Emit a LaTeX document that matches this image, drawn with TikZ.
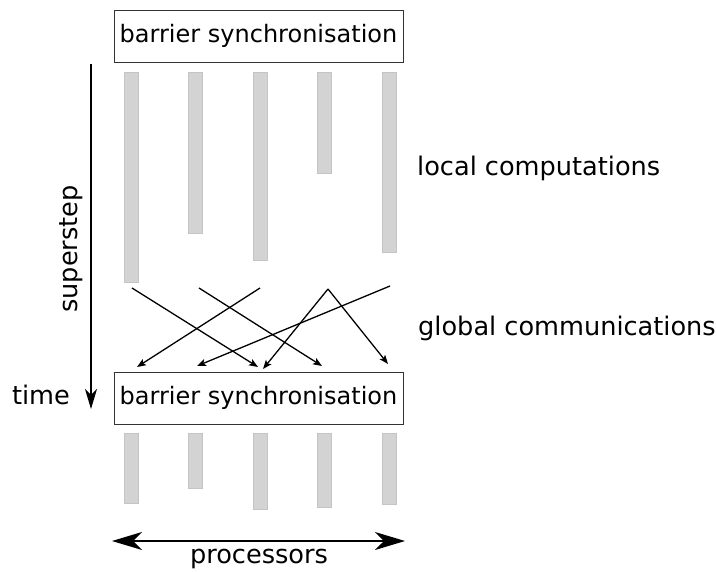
\documentclass[tikz,border=0pt]{standalone}
\usepackage{fontspec}
\setmainfont{DejaVu Sans}
\usepackage{xcolor}
\usepackage{tikz}
\usetikzlibrary{positioning, arrows.meta, calc}
\definecolor{barfill}{RGB}{211,211,211}
\definecolor{barline}{RGB}{196,196,196}

\begin{document}
\begin{tikzpicture}[
  x=1pt, y=-1pt,
  font=\fontsize{25.6}{30}\selectfont,
  sync/.style={draw=black!80, line width=0.9pt, minimum width=289pt, minimum height=52pt, inner sep=0pt, font=\fontsize{24}{29}\selectfont},
  bar/.style={draw=barline, fill=barfill, line width=0.6pt, minimum width=14pt, inner sep=0pt, anchor=north},
  msg/.style={-{Stealth[length=9pt, width=7pt, inset=2pt]}, line width=1.3pt},
  axis/.style={line width=1.3pt}
]
\useasboundingbox (0,0) rectangle (717,572);
\node[sync] (top) at (258.5,36) {barrier synchronisation};
\node[sync] (bot) at (258.5,398) {barrier synchronisation};
% superstep bars
\node[bar, minimum height=210pt] (p1) at (131,72) {};
\node[bar, minimum height=161pt] (p2) at (195,72) {};
\node[bar, minimum height=188pt] (p3) at (260,72) {};
\node[bar, minimum height=101pt] (p4) at (324,72) {};
\node[bar, minimum height=180pt] (p5) at (389,72) {};
% next superstep
\node[bar, minimum height=70pt] (q1) at (131,433) {};
\node[bar, minimum height=55pt] (q2) at (195,433) {};
\node[bar, minimum height=76pt] (q3) at (260,433) {};
\node[bar, minimum height=74pt] (q4) at (324,433) {};
\node[bar, minimum height=71pt] (q5) at (389,433) {};
% message ends
\coordinate (s1) at (132,288);
\coordinate (s2) at (199,288);
\coordinate (s3) at (260,288);
\coordinate (s4) at (328,289);
\coordinate (s5) at (390,286);
\coordinate (t1) at (137,367);
\coordinate (t2) at (197,366);
\coordinate (t3) at (258,367);
\coordinate (t4) at (263,369);
\coordinate (t5) at (322,366);
\coordinate (t6) at (388,364);
\draw[msg] (s1)--(t3);
\draw[msg] (s2)--(t5);
\draw[msg] (s3)--(t1);
\draw[msg] (s4)--(t4);
\draw[msg] (s4)--(t6);
\draw[msg] (s5)--(t2);
% axes
\coordinate (tstart) at (91,64);
\coordinate (tend) at (91,409);
\draw[axis, -{Stealth[length=20pt, width=12pt, inset=6pt]}] (tstart)--(tend);
\coordinate (pleft) at (112,541);
\coordinate (pright) at (405,541);
\draw[axis, {Stealth[length=30pt, width=18pt, inset=9pt]}-{Stealth[length=30pt, width=18pt, inset=9pt]}] (pleft)--(pright);
\node[rotate=90] (superstep) at (71,249) {superstep};
\node (time) at (41,395) {time};
\node (procs) at (259,559) {processors};
\node[anchor=west, inner sep=0pt] (local) at (417,168) {local computations};
\node[anchor=west, inner sep=0pt] (global) at (418,328) {global communications};
\end{tikzpicture}
\end{document}
